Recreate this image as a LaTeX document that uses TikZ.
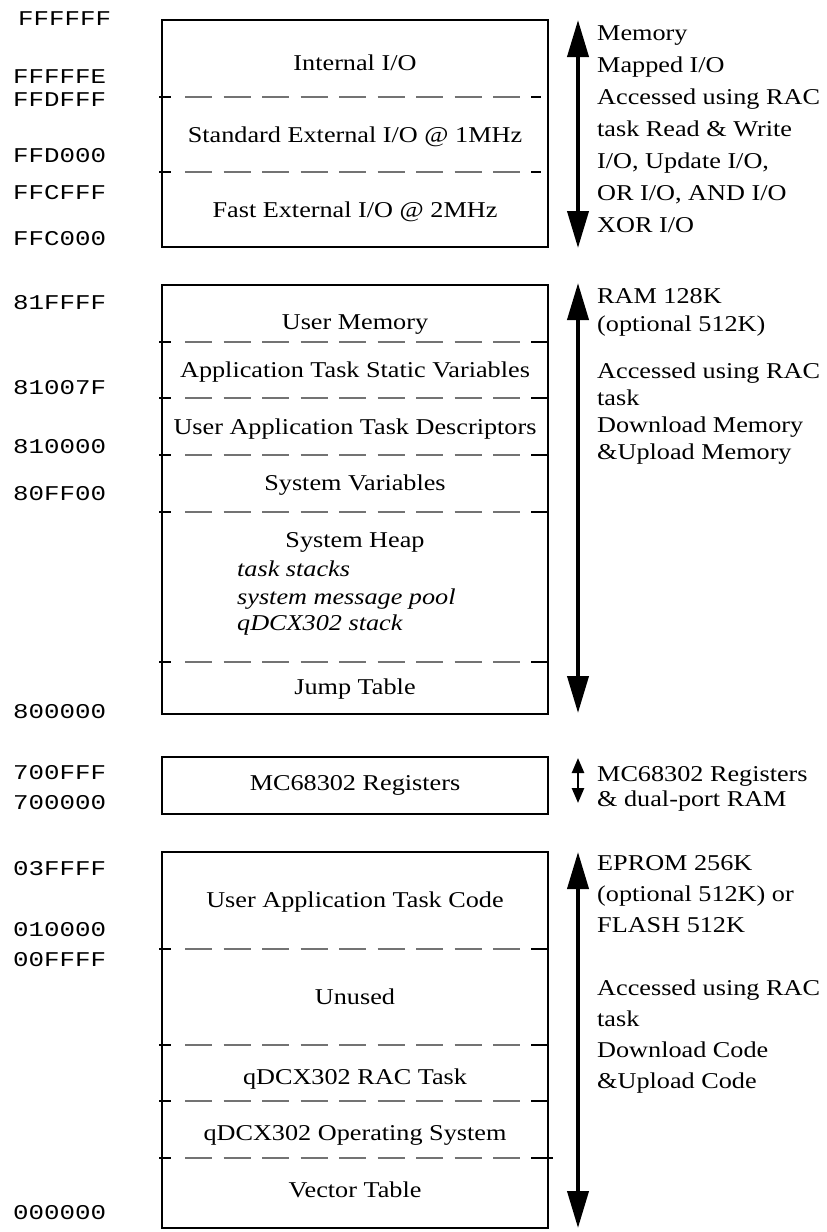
\documentclass[tikz,border=0pt]{standalone}
\usepackage{fontspec}
\setmainfont[FakeStretch=1.16]{Liberation Serif}
\newfontfamily\addrfont[FakeStretch=1.23]{Liberation Mono}
\usetikzlibrary{arrows.meta}

\tikzset{
  lbl/.style={inner sep=0pt, anchor=base, font=\fontsize{22.6}{26}\selectfont},
  lblw/.style={lbl, anchor=base west},
  heapitem/.style={lblw, font=\fontsize{22.6}{26}\selectfont\itshape},
  addr/.style={inner sep=0pt, anchor=base west, font=\addrfont\fontsize{21}{24}\selectfont},
  frame/.style={draw=black, line width=1.1pt},
  sepdash/.style={draw=black!55, line width=1.3pt, dash pattern=on 27pt off 11.5pt},
  sepstub/.style={draw=black, line width=1.1pt},
  bigarrow/.style={line width=4pt,
    {Triangle[length=37pt,width=21pt]}-{Triangle[length=37pt,width=21pt]}},
  smallarrow/.style={line width=2.5pt,
    {Triangle[length=15pt,width=12pt]}-{Triangle[length=15pt,width=12pt]}},
}

% dashed boundary inside a memory block: #1 = y, #2 = end of right stub
\newcommand\memsep[2]{%
  \draw[sepstub] (159,#1) -- (171,#1);
  \draw[sepdash] (185,#1) -- (520,#1);
  \draw[sepstub] (531,#1) -- (#2,#1);
}

\begin{document}
\begin{tikzpicture}[x=1pt, y=-1pt]
\useasboundingbox (0,0) rectangle (827,1232);

% ---------------- I/O block ----------------
\draw[frame] (162,20) rectangle (548,247);
\memsep{97}{541}
\memsep{172}{541}
\node[lbl] (intio) at (355,70) {Internal I/O};
\node[lbl] (stdio) at (355,142) {Standard External I/O @ 1MHz};
\node[lbl] (fastio) at (355,217) {Fast External I/O @ 2MHz};

\node[addr] (a1) at (18,25.5) {FFFFFF};
\node[addr] (a2) at (13,83.5) {FFFFFE};
\node[addr] (a3) at (13,106.5) {FFDFFF};
\node[addr] (a4) at (13,162.5) {FFD000};
\node[addr] (a5) at (13,199.5) {FFCFFF};
\node[addr] (a6) at (13,245.5) {FFC000};

\coordinate (ioTop) at (578,20);
\coordinate (ioBot) at (578,248);
\draw[bigarrow] (ioTop) -- (ioBot);
\node[lblw] (n1a) at (597,40) {Memory};
\node[lblw] (n1b) at (597,72) {Mapped I/O};
\node[lblw] (n1c) at (597,104) {Accessed using RAC};
\node[lblw] (n1d) at (597,136) {task Read \& Write};
\node[lblw] (n1e) at (597,168) {I/O, Update I/O,};
\node[lblw] (n1f) at (597,200) {OR I/O, AND I/O};
\node[lblw] (n1g) at (597,232) {XOR I/O};

% ---------------- RAM block ----------------
\draw[frame] (162,285) rectangle (548,714);
\memsep{342}{549}
\memsep{398}{549}
\memsep{455}{549}
\memsep{512}{549}
\memsep{662}{549}
\node[lbl] (usermem) at (355,329) {User Memory};
\node[lbl] (statvar) at (355,377) {Application Task Static Variables};
\node[lbl] (taskdesc) at (355,434) {User Application Task Descriptors};
\node[lbl] (sysvar) at (355,490) {System Variables};
\node[lbl] (heap) at (355,547) {System Heap};
\node[heapitem] (heap1) at (237,576) {task stacks};
\node[heapitem] (heap2) at (237,604) {system message pool};
\node[heapitem] (heap3) at (237,630) {qDCX302 stack};
\node[lbl] (jump) at (355,694) {Jump Table};

\node[addr] (b1) at (13,309.5) {81FFFF};
\node[addr] (b2) at (13,394.5) {81007F};
\node[addr] (b3) at (13,453.5) {810000};
\node[addr] (b4) at (13,500.5) {80FF00};
\node[addr] (b5) at (13,718.5) {800000};

\coordinate (ramTop) at (578,283);
\coordinate (ramBot) at (578,713);
\draw[bigarrow] (ramTop) -- (ramBot);
\node[lblw] (n2a) at (597,303) {RAM 128K};
\node[lblw] (n2b) at (597,331) {(optional 512K)};
\node[lblw] (n2c) at (597,378) {Accessed using RAC};
\node[lblw] (n2d) at (597,405) {task};
\node[lblw] (n2e) at (597,432) {Download Memory};
\node[lblw] (n2f) at (597,459) {\&Upload Memory};

% ---------------- register block ----------------
\draw[frame] (162,757) rectangle (548,814);
\node[lbl] (regs) at (355,790) {MC68302 Registers};
\node[addr] (c1) at (13,779.5) {700FFF};
\node[addr] (c2) at (13,809.5) {700000};

\coordinate (regTop) at (578,758);
\coordinate (regBot) at (578,803);
\draw[smallarrow] (regTop) -- (regBot);
\node[lblw] (n3a) at (597,781) {MC68302 Registers};
\node[lblw] (n3b) at (597,806) {\& dual-port RAM};

% ---------------- EPROM / FLASH block ----------------
\draw[frame] (162,852) rectangle (548,1228);
\memsep{949}{549}
\memsep{1045}{549}
\memsep{1101}{549}
\memsep{1158}{553}
\node[lbl] (usercode) at (355,907) {User Application Task Code};
\node[lbl] (unused) at (355,1004) {Unused};
\node[lbl] (ractask) at (355,1084) {qDCX302 RAC Task};
\node[lbl] (opsys) at (355,1140) {qDCX302 Operating System};
\node[lbl] (vectab) at (355,1197) {Vector Table};

\node[addr] (d1) at (13,875.5) {03FFFF};
\node[addr] (d2) at (13,936.5) {010000};
\node[addr] (d3) at (13,966.5) {00FFFF};
\node[addr] (d4) at (13,1219.5) {000000};

\coordinate (romTop) at (578,852);
\coordinate (romBot) at (578,1228);
\draw[bigarrow] (romTop) -- (romBot);
\node[lblw] (n4a) at (597,870) {EPROM 256K};
\node[lblw] (n4b) at (597,901) {(optional 512K) or};
\node[lblw] (n4c) at (597,932) {FLASH 512K};
\node[lblw] (n4d) at (597,995) {Accessed using RAC};
\node[lblw] (n4e) at (597,1026) {task};
\node[lblw] (n4f) at (597,1057) {Download Code};
\node[lblw] (n4g) at (597,1088) {\&Upload Code};
\end{tikzpicture}
\end{document}
